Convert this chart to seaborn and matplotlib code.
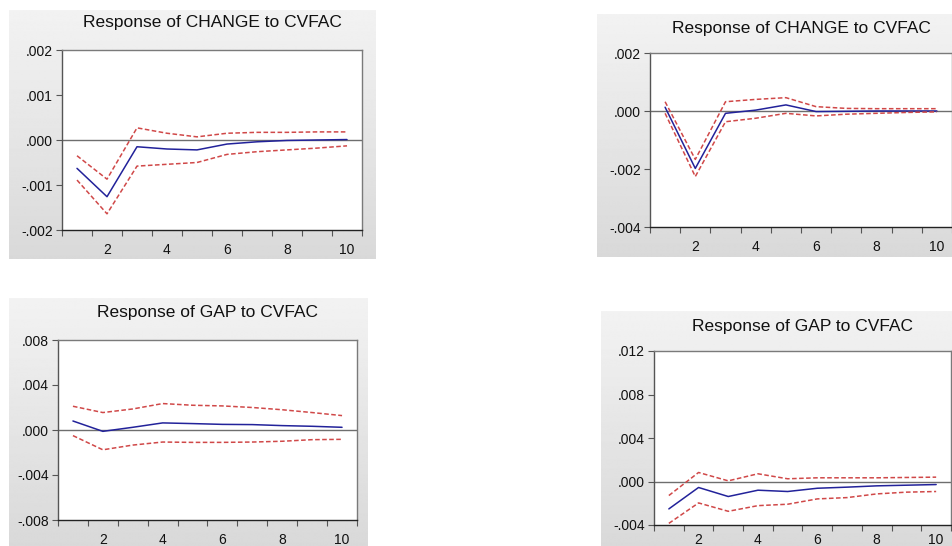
import numpy as np
import pandas as pd
import matplotlib
matplotlib.use("Agg")
import matplotlib.pyplot as plt
from matplotlib.ticker import FixedLocator, FuncFormatter
import seaborn as sns

# Impulse-response horizons
steps = list(range(1, 11))

# Response of CHANGE to CVFAC (left model)
change_a_mid = [-0.00063, -0.00126, -0.00015, -0.00020, -0.00022, -0.00009, -0.00004, -0.00001, 0.00000, 0.00001]
change_a_up = [-0.00035, -0.00087, 0.00027, 0.00015, 0.00007, 0.00015, 0.00017, 0.00017, 0.00018, 0.00018]
change_a_lo = [-0.00089, -0.00164, -0.00058, -0.00054, -0.00050, -0.00032, -0.00026, -0.00022, -0.00018, -0.00013]

# Response of CHANGE to CVFAC (right model)
change_b_mid = [0.00013, -0.00198, -0.00008, 0.00003, 0.00021, -0.00002, -0.00001, 0.00000, 0.00000, 0.00000]
change_b_up = [0.00032, -0.00167, 0.00032, 0.00040, 0.00046, 0.00015, 0.00009, 0.00008, 0.00008, 0.00008]
change_b_lo = [-0.00008, -0.00226, -0.00037, -0.00025, -0.00008, -0.00017, -0.00011, -0.00008, -0.00005, -0.00003]

# Response of GAP to CVFAC (left model)
gap_a_mid = [0.00080, -0.00012, 0.00024, 0.00063, 0.00057, 0.00050, 0.00048, 0.00039, 0.00033, 0.00024]
gap_a_up = [0.00211, 0.00155, 0.00187, 0.00235, 0.00220, 0.00214, 0.00200, 0.00180, 0.00155, 0.00128]
gap_a_lo = [-0.00050, -0.00176, -0.00134, -0.00107, -0.00110, -0.00110, -0.00107, -0.00100, -0.00086, -0.00083]

# Response of GAP to CVFAC (right model)
gap_b_mid = [-0.00252, -0.00055, -0.00138, -0.00080, -0.00092, -0.00062, -0.00052, -0.00040, -0.00034, -0.00028]
gap_b_up = [-0.00129, 0.00083, 0.00006, 0.00071, 0.00025, 0.00034, 0.00034, 0.00034, 0.00037, 0.00040]
gap_b_lo = [-0.00385, -0.00197, -0.00274, -0.00222, -0.00209, -0.00160, -0.00148, -0.00114, -0.00098, -0.00092]

titles = ["Response of CHANGE to CVFAC", "Response of CHANGE to CVFAC",
          "Response of GAP to CVFAC", "Response of GAP to CVFAC"]
y_ticks = [[-0.002, -0.001, 0.000, 0.001, 0.002],
           [-0.004, -0.002, 0.000, 0.002],
           [-0.008, -0.004, 0.000, 0.004, 0.008],
           [-0.004, 0.000, 0.004, 0.008, 0.012]]
x_labels = [2, 4, 6, 8, 10]

sns.set_theme(style="white")
plt.rcParams["font.family"] = ["Liberation Sans", "DejaVu Sans"]

W, H = 953, 546
fig = plt.figure(figsize=(W / 100, H / 100), dpi=100)
fig.patch.set_facecolor("white")

# Grey panel frames (pixel boxes: x0, x1, y0, y1) and plot areas (left, right, top, bottom)
frames = [(9, 376, 10, 259), (597, 953, 14, 257), (9, 368, 298, 546), (601, 953, 311, 546)]
areas = [(62, 362, 50, 230), (650, 952, 53, 227), (58, 357, 340, 520), (654, 951, 351, 525)]
title_y = [23, 28, 313, 327]
x_pad = [9, 9, 9, 5.5]

bg = fig.add_axes([0, 0, 1, 1], zorder=-5)
grad = np.linspace(0.95, 0.85, 256).reshape(-1, 1)
for x0, x1, y0, y1 in frames:
    bg.imshow(grad, cmap="gray", vmin=0, vmax=1, extent=(x0, x1, y1, y0),
              aspect="auto", interpolation="bilinear")
bg.set_xlim(0, W)
bg.set_ylim(H, 0)
bg.axis("off")

panels = [(change_a_mid, change_a_up, change_a_lo),
          (change_b_mid, change_b_up, change_b_lo),
          (gap_a_mid, gap_a_up, gap_a_lo),
          (gap_b_mid, gap_b_up, gap_b_lo)]

palette = {"response": "#22229a", "upper": "#d04848", "lower": "#d04848"}
dashes = {"response": "", "upper": (3.0, 1.6), "lower": (3.0, 1.6)}

def fmt(v, _):
    if abs(v) < 1e-12:
        return ".000"
    return f"{v:.3f}".replace("0.", ".", 1)

for i, (mid, up, lo) in enumerate(panels):
    l, r, t, b = areas[i]
    ax = fig.add_axes([l / W, 1 - b / H, (r - l) / W, (b - t) / H])
    ax.set_facecolor("white")
    df = pd.DataFrame({
        "step": steps * 3,
        "value": mid + up + lo,
        "series": ["response"] * 10 + ["upper"] * 10 + ["lower"] * 10,
    })
    ax.axhline(0, color="#6e6e6e", lw=1.0, zorder=1)
    sns.lineplot(data=df, x="step", y="value", hue="series", style="series",
                 palette=palette, dashes=dashes, linewidth=1.1, legend=False,
                 ax=ax, zorder=3)
    ax.set_xlim(0.5, 10.5)
    ax.set_ylim(y_ticks[i][0], y_ticks[i][-1])
    ax.set_xlabel("")
    ax.set_ylabel("")
    ax.xaxis.set_major_locator(FixedLocator(x_labels))
    ax.xaxis.set_minor_locator(FixedLocator(np.arange(0.5, 10.6, 1.0)))
    ax.yaxis.set_major_locator(FixedLocator(y_ticks[i]))
    ax.yaxis.set_major_formatter(FuncFormatter(fmt))
    ax.tick_params(axis="x", which="major", length=0, pad=x_pad[i], labelsize=10,
                   labelcolor="#111111")
    ax.tick_params(axis="x", which="minor", bottom=True, length=4, width=0.8, color="#555555")
    ax.tick_params(axis="y", which="major", left=True, length=4, width=0.8, pad=2.5,
                   labelsize=10, labelcolor="#111111", color="#555555")
    for side, col in [("left", "#555555"), ("bottom", "#222222"),
                      ("top", "#7a7a7a"), ("right", "#7a7a7a")]:
        ax.spines[side].set_visible(True)
        ax.spines[side].set_color(col)
        ax.spines[side].set_linewidth(1.0)
    fig.text((l + r) / 2 / W, 1 - title_y[i] / H, titles[i], ha="center", va="center",
             fontsize=12.5, color="#111111")

fig.savefig("out.png", dpi=100)
